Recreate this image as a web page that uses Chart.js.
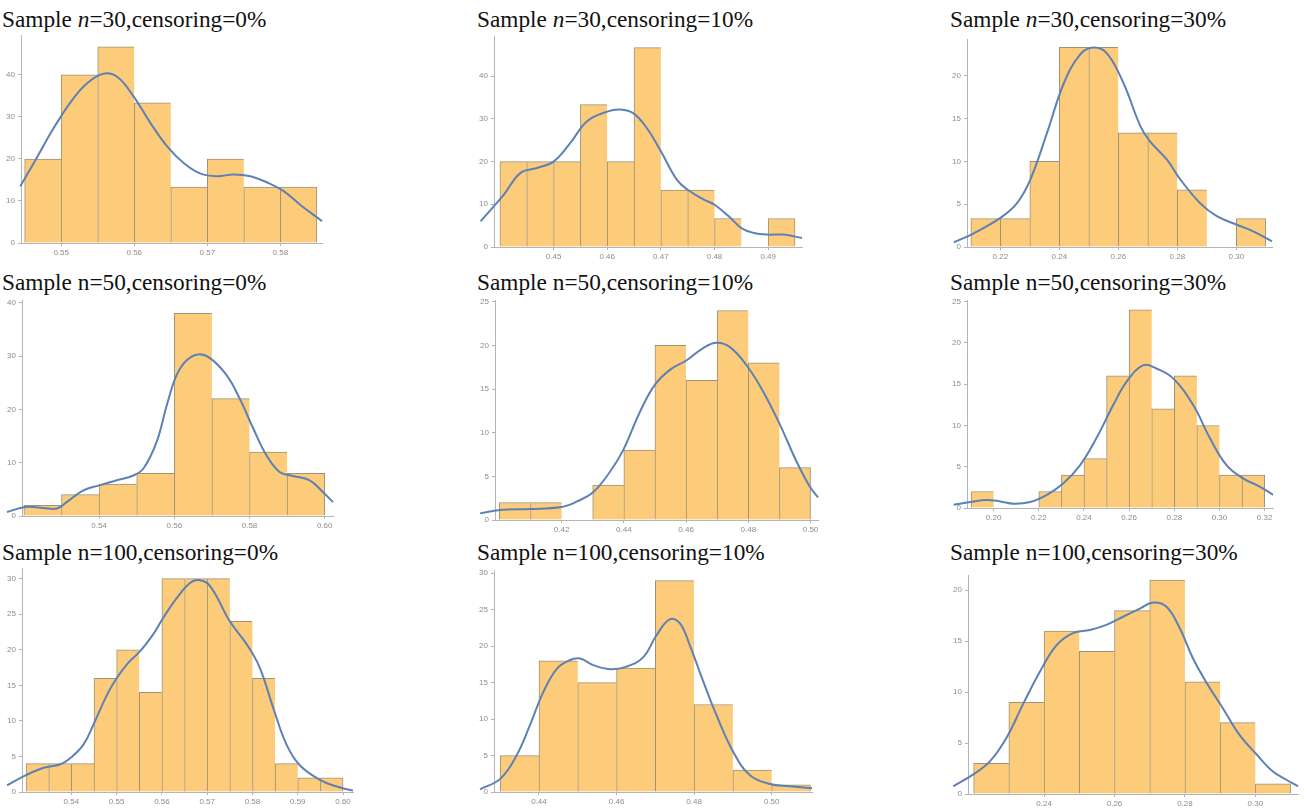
<!DOCTYPE html>
<html>
<head>
<meta charset="utf-8">
<script src="https://cdn.jsdelivr.net/npm/chart.js@4.4.1/dist/chart.umd.min.js"></script>
<style>
  html, body { margin: 0; padding: 0; background: #fff; }
  body { width: 1306px; height: 811px; overflow: hidden; position: relative; }
  .title { position: absolute; font-family: 'Liberation Serif', 'Times New Roman', serif; font-size: 23.3px; line-height: 1; color: #111; white-space: nowrap; }
  .panel { position: absolute; }
</style>
</head>
<body>
<script>
// ---------- data: histogram densities (bin left edges + heights) and kernel density curves ----------

// n = 30, censoring 0%
const n30c0BinWidth = 0.005;
const n30c0Bins = [0.545, 0.55, 0.555, 0.56, 0.565, 0.57, 0.575, 0.58];
const n30c0Density = [20, 40, 46.67, 33.33, 13.33, 20, 13.33, 13.33];
const n30c0KdeX = [0.5426, 0.5444, 0.5467, 0.5485, 0.55, 0.5517, 0.5536, 0.5558, 0.5577, 0.5599, 0.5622, 0.5645, 0.5668, 0.5691, 0.5713, 0.5736, 0.5759, 0.5782, 0.5805, 0.5827, 0.5857];
const n30c0KdeY = [8.3, 13.5, 20.4, 26, 30.2, 34.5, 38.1, 40.3, 39.5, 34.9, 28.6, 23, 19, 16.5, 15.9, 16.3, 15.9, 14.4, 12.3, 9.1, 5.2];
const n30c0XTicks = [0.55, 0.56, 0.57, 0.58];
const n30c0YTicks = [0, 10, 20, 30, 40];

// n = 30, censoring 10%
const n30c10BinWidth = 0.005;
const n30c10Bins = [0.44, 0.445, 0.45, 0.455, 0.46, 0.465, 0.47, 0.475, 0.48, 0.485, 0.49];
const n30c10Density = [20, 20, 20, 33.33, 20, 46.67, 13.33, 13.33, 6.67, 0, 6.67];
const n30c10KdeX = [0.4364, 0.4407, 0.4438, 0.4469, 0.45, 0.4531, 0.4562, 0.46, 0.4624, 0.4649, 0.4674, 0.47, 0.473, 0.475, 0.478, 0.48, 0.483, 0.485, 0.4873, 0.49, 0.4929, 0.4963];
const n30c10KdeY = [6.0, 12.2, 17.3, 18.5, 20, 24.3, 29.4, 31.7, 32.2, 31.3, 27.8, 22.4, 15.7, 13.4, 11.1, 9.9, 6.8, 4.4, 3.3, 2.9, 2.9, 2.1];
const n30c10XTicks = [0.45, 0.46, 0.47, 0.48, 0.49];
const n30c10YTicks = [0, 10, 20, 30, 40];

// n = 30, censoring 30%
const n30c30BinWidth = 0.01;
const n30c30Bins = [0.21, 0.22, 0.23, 0.24, 0.25, 0.26, 0.27, 0.28, 0.29, 0.30];
const n30c30Density = [3.33, 3.33, 10, 23.33, 23.33, 13.33, 13.33, 6.67, 0, 3.33];
const n30c30KdeX = [0.2042, 0.211, 0.22, 0.2256, 0.2302, 0.2358, 0.2415, 0.2471, 0.2516, 0.2562, 0.2618, 0.2675, 0.2708, 0.2765, 0.281, 0.2878, 0.2934, 0.3002, 0.3059, 0.3121];
const n30c30KdeY = [0.54, 1.6, 3.4, 5.1, 7.9, 13.3, 19.1, 22.5, 23.3, 22.6, 19.1, 14.1, 12.3, 10.2, 7.9, 5.1, 3.6, 2.6, 1.8, 0.66];
const n30c30XTicks = [0.22, 0.24, 0.26, 0.28, 0.30];
const n30c30YTicks = [0, 5, 10, 15, 20];

// n = 50, censoring 0%
const n50c0BinWidth = 0.01;
const n50c0Bins = [0.52, 0.53, 0.54, 0.55, 0.56, 0.57, 0.58, 0.59];
const n50c0Density = [2, 4, 6, 8, 38, 22, 12, 8];
const n50c0KdeX = [0.5155, 0.5204, 0.5252, 0.5288, 0.5314, 0.5358, 0.54, 0.5447, 0.5491, 0.5518, 0.5553, 0.558, 0.5606, 0.5633, 0.5664, 0.5695, 0.5739, 0.5774, 0.581, 0.5845, 0.588, 0.5916, 0.596, 0.5995, 0.6022];
const n50c0KdeY = [0.75, 1.7, 1.5, 1.4, 2.6, 4.8, 5.75, 6.7, 7.6, 8.9, 13.9, 20.75, 26.4, 29.2, 30.3, 29.6, 26.4, 22, 16.4, 11.4, 8.25, 7.5, 6.7, 4.5, 2.6];
const n50c0XTicks = [0.54, 0.56, 0.58, 0.60];
const n50c0YTicks = [0, 10, 20, 30, 40];

// n = 50, censoring 10%
const n50c10BinWidth = 0.01;
const n50c10Bins = [0.40, 0.41, 0.42, 0.43, 0.44, 0.45, 0.46, 0.47, 0.48, 0.49];
const n50c10Density = [2, 2, 0, 4, 8, 20, 16, 24, 18, 6];
const n50c10KdeX = [0.3938, 0.4002, 0.4098, 0.42, 0.4248, 0.4302, 0.4355, 0.4398, 0.4452, 0.45, 0.4548, 0.4602, 0.4655, 0.4698, 0.4741, 0.4795, 0.4848, 0.4902, 0.4955, 0.4998, 0.5024];
const n50c10KdeY = [0.76, 1.15, 1.26, 1.5, 2.1, 3.2, 5.5, 8, 12.4, 15.5, 17.2, 18.3, 19.7, 20.3, 19.8, 17.7, 14.7, 10.9, 6.7, 3.8, 2.6];
const n50c10XTicks = [0.42, 0.44, 0.46, 0.48, 0.50];
const n50c10YTicks = [0, 5, 10, 15, 20, 25];

// n = 50, censoring 30%
const n50c30BinWidth = 0.01;
const n50c30Bins = [0.19, 0.20, 0.21, 0.22, 0.23, 0.24, 0.25, 0.26, 0.27, 0.28, 0.29, 0.30, 0.31];
const n50c30Density = [2, 0, 0, 2, 4, 6, 16, 24, 12, 16, 10, 4, 4];
const n50c30KdeX = [0.1823, 0.1897, 0.197, 0.2029, 0.2088, 0.2162, 0.2236, 0.2309, 0.2383, 0.2456, 0.253, 0.2589, 0.2663, 0.2721, 0.2795, 0.2883, 0.2957, 0.3031, 0.3104, 0.3178, 0.3237];
const n50c30KdeY = [0.4, 0.73, 0.97, 0.8, 0.52, 0.73, 1.6, 3, 5.2, 8.5, 12.5, 15.3, 17.3, 16.9, 15.7, 12.5, 8.5, 5.2, 3.6, 2.6, 1.6];
const n50c30XTicks = [0.20, 0.22, 0.24, 0.26, 0.28, 0.30, 0.32];
const n50c30YTicks = [0, 5, 10, 15, 20, 25];

// n = 100, censoring 0%
const n100c0BinWidth = 0.005;
const n100c0Bins = [0.53, 0.535, 0.54, 0.545, 0.55, 0.555, 0.56, 0.565, 0.57, 0.575, 0.58, 0.585, 0.59, 0.595];
const n100c0Density = [4, 4, 4, 16, 20, 14, 30, 30, 30, 24, 16, 4, 2, 2];
const n100c0KdeX = [0.5258, 0.5301, 0.5339, 0.5376, 0.54, 0.5427, 0.5449, 0.5479, 0.5501, 0.5526, 0.5552, 0.5581, 0.5603, 0.5633, 0.5662, 0.5681, 0.5706, 0.575, 0.5787, 0.5816, 0.5846, 0.5875, 0.5904, 0.5949, 0.5985, 0.6022];
const n100c0KdeY = [0.94, 2.4, 3.4, 3.9, 4.9, 6.7, 9.5, 13.7, 16.1, 18.2, 19.8, 22.2, 24.5, 27.3, 29.4, 29.8, 29, 24, 20.8, 17.5, 11.8, 6.7, 3.8, 1.7, 0.8, 0.19];
const n100c0XTicks = [0.54, 0.55, 0.56, 0.57, 0.58, 0.59, 0.60];
const n100c0YTicks = [0, 5, 10, 15, 20, 25, 30];

// n = 100, censoring 10%
const n100c10BinWidth = 0.01;
const n100c10Bins = [0.43, 0.44, 0.45, 0.46, 0.47, 0.48, 0.49, 0.50];
const n100c10Density = [5, 18, 15, 17, 29, 12, 3, 1];
const n100c10KdeX = [0.4248, 0.43, 0.4342, 0.4377, 0.4411, 0.4446, 0.448, 0.4506, 0.454, 0.4583, 0.4626, 0.4669, 0.4703, 0.4738, 0.4764, 0.4789, 0.4824, 0.4858, 0.4901, 0.4944, 0.4996, 0.5047, 0.5104];
const n100c10KdeY = [0.37, 1.8, 5, 9.2, 13.7, 16.9, 18.1, 18.3, 17.4, 16.85, 17.2, 18.5, 21.5, 23.7, 23.1, 20.1, 15.1, 10.5, 5.5, 2.3, 1.1, 0.8, 0.5];
const n100c10XTicks = [0.44, 0.46, 0.48, 0.50];
const n100c10YTicks = [0, 5, 10, 15, 20, 25, 30];

// n = 100, censoring 30%
const n100c30BinWidth = 0.01;
const n100c30Bins = [0.22, 0.23, 0.24, 0.25, 0.26, 0.27, 0.28, 0.29, 0.30];
const n100c30Density = [3, 9, 16, 14, 18, 21, 11, 7, 1];
const n100c30KdeX = [0.2142, 0.2198, 0.2246, 0.2293, 0.234, 0.2388, 0.2435, 0.2482, 0.253, 0.2577, 0.2624, 0.2672, 0.2709, 0.2747, 0.2785, 0.2823, 0.286, 0.2908, 0.2955, 0.3003, 0.305, 0.3088, 0.3121];
const n100c30KdeY = [0.75, 1.9, 3.2, 5.5, 8.8, 12, 14.6, 15.8, 16.1, 16.6, 17.4, 18.2, 18.8, 18.4, 16.3, 13.3, 11, 8.4, 5.8, 3.9, 2.2, 1.4, 0.75];
const n100c30XTicks = [0.24, 0.26, 0.28, 0.30];
const n100c30YTicks = [0, 5, 10, 15, 20];

// ---------- panel setup: data references, axis ranges and placement ----------
const panels = [
  { n: '30', italicN: true, cens: '0%',  binW: n30c0BinWidth,  bins: n30c0Bins,  dens: n30c0Density,  kx: n30c0KdeX,  ky: n30c0KdeY,  xt: n30c0XTicks,  yt: n30c0YTicks,
    xmin: 0.5445, xmax: 0.5857, ymax: 49.5, axisX: 21, y0: 243, top: 35, right: 322, titleX: 2, titleBase: 28 },
  { n: '30', italicN: true, cens: '10%', binW: n30c10BinWidth, bins: n30c10Bins, dens: n30c10Density, kx: n30c10KdeX, ky: n30c10KdeY, xt: n30c10XTicks, yt: n30c10YTicks,
    xmin: 0.4389, xmax: 0.4963, ymax: 49.4, axisX: 494, y0: 247, top: 36, right: 802, titleX: 477, titleBase: 28 },
  { n: '30', italicN: true, cens: '30%', binW: n30c30BinWidth, bins: n30c30Bins, dens: n30c30Density, kx: n30c30KdeX, ky: n30c30KdeY, xt: n30c30XTicks, yt: n30c30YTicks,
    xmin: 0.2087, xmax: 0.3121, ymax: 24.3, axisX: 967, y0: 247, top: 39, right: 1272, titleX: 950, titleBase: 28 },

  { n: '50', italicN: false, cens: '0%',  binW: n50c0BinWidth,  bins: n50c0Bins,  dens: n50c0Density,  kx: n50c0KdeX,  ky: n50c0KdeY,  xt: n50c0XTicks,  yt: n50c0YTicks,
    xmin: 0.5195, xmax: 0.6022, ymax: 40.5, axisX: 22, y0: 516, top: 300, right: 333, titleX: 2, titleBase: 291 },
  { n: '50', italicN: false, cens: '10%', binW: n50c10BinWidth, bins: n50c10Bins, dens: n50c10Density, kx: n50c10KdeX, ky: n50c10KdeY, xt: n50c10XTicks, yt: n50c10YTicks,
    xmin: 0.3986, xmax: 0.5024, ymax: 25.2, axisX: 495, y0: 520, top: 300, right: 818, titleX: 477, titleBase: 291 },
  { n: '50', italicN: false, cens: '30%', binW: n50c30BinWidth, bins: n50c30Bins, dens: n50c30Density, kx: n50c30KdeX, ky: n50c30KdeY, xt: n50c30XTicks, yt: n50c30YTicks,
    xmin: 0.1882, xmax: 0.3237, ymax: 25.2, axisX: 967, y0: 508, top: 300, right: 1273, titleX: 950, titleBase: 291 },

  { n: '100', italicN: false, cens: '0%',  binW: n100c0BinWidth,  bins: n100c0Bins,  dens: n100c0Density,  kx: n100c0KdeX,  ky: n100c0KdeY,  xt: n100c0XTicks,  yt: n100c0YTicks,
    xmin: 0.5291, xmax: 0.6022, ymax: 31.5, axisX: 22, y0: 792, top: 568, right: 353, titleX: 2, titleBase: 561 },
  { n: '100', italicN: false, cens: '10%', binW: n100c10BinWidth, bins: n100c10Bins, dens: n100c10Density, kx: n100c10KdeX, ky: n100c10KdeY, xt: n100c10XTicks, yt: n100c10YTicks,
    xmin: 0.4284, xmax: 0.5104, ymax: 30.45, axisX: 494, y0: 792, top: 570, right: 812, titleX: 477, titleBase: 561 },
  { n: '100', italicN: false, cens: '30%', binW: n100c30BinWidth, bins: n100c30Bins, dens: n100c30Density, kx: n100c30KdeX, ky: n100c30KdeY, xt: n100c30XTicks, yt: n100c30YTicks,
    xmin: 0.2184, xmax: 0.3121, ymax: 21.5, axisX: 968, y0: 794, top: 575, right: 1298, titleX: 950, titleBase: 561 }
];

// ---------- drawing ----------
const Y_AXIS_W = 26;   // space reserved for y tick labels
const X_AXIS_H = 18;   // space reserved for x tick labels
const PAD_T = 8;
const PAD_R = 14;
const TITLE_SIZE = 23.3;

const tickFont = { family: "'Liberation Sans', Arial, sans-serif", size: 8 };
const tickColor = '#8c8c8c';
const axisColor = '#b4b4b4';

function addTitle(p) {
  const div = document.createElement('div');
  div.className = 'title';
  div.style.left = p.titleX + 'px';
  // line-height 1 puts the serif baseline about 0.8375em below the box top
  div.style.top = (p.titleBase - TITLE_SIZE * 0.8375) + 'px';
  div.appendChild(document.createTextNode('Sample '));
  if (p.italicN) {
    const i = document.createElement('i');
    i.textContent = 'n';
    div.appendChild(i);
  } else {
    div.appendChild(document.createTextNode('n'));
  }
  div.appendChild(document.createTextNode('=' + p.n + ',censoring=' + p.cens));
  document.body.appendChild(div);
}

function addChart(p) {
  const left = p.axisX - Y_AXIS_W;
  const top = p.top - PAD_T;
  const width = p.right - left + PAD_R;
  const height = p.y0 - top + X_AXIS_H;

  const wrap = document.createElement('div');
  wrap.className = 'panel';
  wrap.style.left = left + 'px';
  wrap.style.top = top + 'px';
  wrap.style.width = width + 'px';
  wrap.style.height = height + 'px';
  const canvas = document.createElement('canvas');
  canvas.width = width;
  canvas.height = height;
  canvas.style.width = width + 'px';
  canvas.style.height = height + 'px';
  wrap.appendChild(canvas);
  document.body.appendChild(wrap);

  const barPoints = p.bins.map((b, i) => ({ x: b + p.binW / 2, y: p.dens[i] }));
  const kdePoints = p.kx.map((x, i) => ({ x: x, y: p.ky[i] }));
  const lastBar = barPoints.length - 1;

  new Chart(canvas, {
    type: 'bar',
    data: {
      datasets: [
        {
          type: 'line',
          data: kdePoints,
          borderColor: '#5e81b5',
          borderWidth: 2,
          pointRadius: 0,
          fill: false,
          tension: 0.4,
          clip: false,
          order: 0
        },
        {
          type: 'bar',
          data: barPoints,
          backgroundColor: '#fccc7a',
          borderColor: '#a09276',
          borderSkipped: false,
          borderWidth: (ctx) => ({ top: 1, left: 1, bottom: 0, right: ctx.dataIndex === lastBar ? 1 : 0 }),
          barPercentage: 1,
          categoryPercentage: 1,
          grouped: false,
          order: 1
        }
      ]
    },
    options: {
      responsive: false,
      animation: false,
      devicePixelRatio: 1,
      events: [],
      layout: { padding: { left: 0, top: PAD_T, right: PAD_R, bottom: 0 } },
      plugins: { legend: { display: false }, tooltip: { enabled: false }, title: { display: false } },
      scales: {
        x: {
          type: 'linear',
          min: p.xmin,
          max: p.xmax,
          offset: false,
          afterFit: (s) => { s.height = X_AXIS_H; },
          afterBuildTicks: (s) => { s.ticks = p.xt.map(v => ({ value: v })); },
          ticks: {
            callback: (v) => Number(v).toFixed(2),
            font: tickFont,
            color: tickColor,
            padding: 2,
            maxRotation: 0,
            autoSkip: false
          },
          grid: { drawOnChartArea: false, offset: false, tickLength: 3, color: axisColor },
          border: { display: true, color: axisColor, width: 1 }
        },
        y: {
          type: 'linear',
          min: 0,
          max: p.ymax,
          afterFit: (s) => { s.width = Y_AXIS_W; },
          afterBuildTicks: (s) => { s.ticks = p.yt.map(v => ({ value: v })); },
          ticks: {
            callback: (v) => String(v),
            font: tickFont,
            color: tickColor,
            padding: 3,
            autoSkip: false
          },
          grid: { drawOnChartArea: false, tickLength: 3, color: axisColor },
          border: { display: true, color: axisColor, width: 1 }
        }
      }
    }
  });
}

panels.forEach(p => { addTitle(p); addChart(p); });
</script>
</body>
</html>
